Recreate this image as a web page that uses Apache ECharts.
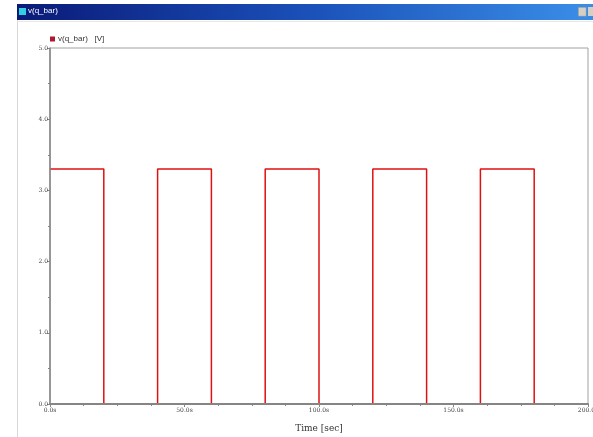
<!DOCTYPE html>
<html>
<head>
<meta charset="utf-8">
<script src="https://cdn.jsdelivr.net/npm/echarts@6/dist/echarts.min.js"></script>
<style>
html,body{margin:0;padding:0;background:#fff;}
#c{width:593px;height:437px;}
</style>
</head>
<body>
<div id="c"></div>
<script>
// Data
var times  = [0, 20, 40, 60, 80, 100, 120, 140, 160, 180, 200];
var levels = [3.3, 0, 3.3, 0, 3.3, 0, 3.3, 0, 3.3, 0, 0];
var xTickValues = [0, 50, 100, 150, 200];
var xTickLabels = ['0.0s', '50.0s', '100.0s', '150.0s', '200.0s'];
var yTickLabels = ['0.0', '1.0', '2.0', '3.0', '4.0', '5.0'];
var seriesName = 'v(q_bar)';
var windowTitle = 'v(q_bar)';

var data = times.map(function (t, i) { return [t, levels[i]]; });

var chart = echarts.init(document.getElementById('c'));
var axisGray = '#858585';
var labelFont = 'DejaVu Serif';
chart.setOption({
  animation: false,
  backgroundColor: '#ffffff',
  grid: { left: 50, right: 5, top: 48, bottom: 33, show: true, borderColor: '#a0a0a0', borderWidth: 1,
          containLabel: false, outerBoundsMode: 'none' },
  legend: {
    left: 45, top: 30,
    itemWidth: 5, itemHeight: 5, itemGap: 2,
    icon: 'rect',
    textStyle: { fontSize: 8, color: '#333', fontFamily: 'Liberation Sans', padding: [0,0,0,-2] },
    formatter: function (n) { return n + '   [V]'; },
    data: [{ name: seriesName, itemStyle: { color: '#b01830' } }]
  },
  xAxis: {
    type: 'value', min: 0, max: 200, interval: 50, z: 5,
    name: 'Time [sec]', nameLocation: 'middle', nameGap: 20,
    nameTextStyle: { fontSize: 9, color: '#333', fontFamily: labelFont },
    axisLine: { lineStyle: { color: axisGray, width: 2 } },
    axisTick: { show: true, inside: false, length: 3, lineStyle: { color: axisGray } },
    minorTick: { show: true, splitNumber: 4, length: 2, lineStyle: { color: axisGray } },
    splitLine: { show: false },
    axisLabel: {
      fontSize: 6, color: '#444', fontFamily: labelFont, margin: 3,
      formatter: function (v) { var i = xTickValues.indexOf(v); return i >= 0 ? xTickLabels[i] : ''; }
    }
  },
  yAxis: {
    type: 'value', min: 0, max: 5, interval: 1, z: 5,
    axisLine: { show: true, lineStyle: { color: axisGray, width: 1.5 } },
    axisTick: { show: true, inside: false, length: 3, lineStyle: { color: axisGray } },
    minorTick: { show: true, splitNumber: 2, length: 2, lineStyle: { color: axisGray } },
    splitLine: { show: false },
    axisLabel: {
      fontSize: 6, color: '#444', fontFamily: labelFont, margin: 2,
      formatter: function (v) { return yTickLabels[Math.round(v)] || ''; }
    }
  },
  series: [{
    name: seriesName, type: 'line', step: 'end', data: data,
    showSymbol: false, symbol: 'none',
    lineStyle: { color: '#e01010', width: 1.5 },
    itemStyle: { color: '#b01830' }
  }],
  graphic: [
    { type: 'rect', left: 17, top: 4, shape: { width: 576, height: 16 },
      style: { fill: new echarts.graphic.LinearGradient(0, 0, 1, 0, [
        { offset: 0, color: '#0a1a78' }, { offset: 0.5, color: '#1a50b8' }, { offset: 1, color: '#3a8ee8' }]) } },
    { type: 'rect', left: 19, top: 8, shape: { width: 7, height: 7 }, style: { fill: '#30d0e0' } },
    { type: 'text', left: 28, top: 7, style: { text: windowTitle, fontSize: 8, fill: '#ffffff', fontFamily: 'Liberation Sans' } },
    { type: 'rect', left: 578, top: 7, shape: { width: 8, height: 9 }, style: { fill: '#d4d0c8', stroke: '#808080', lineWidth: 0.5 } },
    { type: 'rect', left: 588, top: 7, shape: { width: 6, height: 9 }, style: { fill: '#d4d0c8' } },
    { type: 'line', shape: { x1: 17.5, y1: 20, x2: 17.5, y2: 437 }, style: { stroke: '#d8d8d8', lineWidth: 1 } },
    { type: 'line', shape: { x1: 17, y1: 21.5, x2: 593, y2: 21.5 }, style: { stroke: '#e8e8e8', lineWidth: 1 } }
  ]
});
</script>
</body>
</html>
